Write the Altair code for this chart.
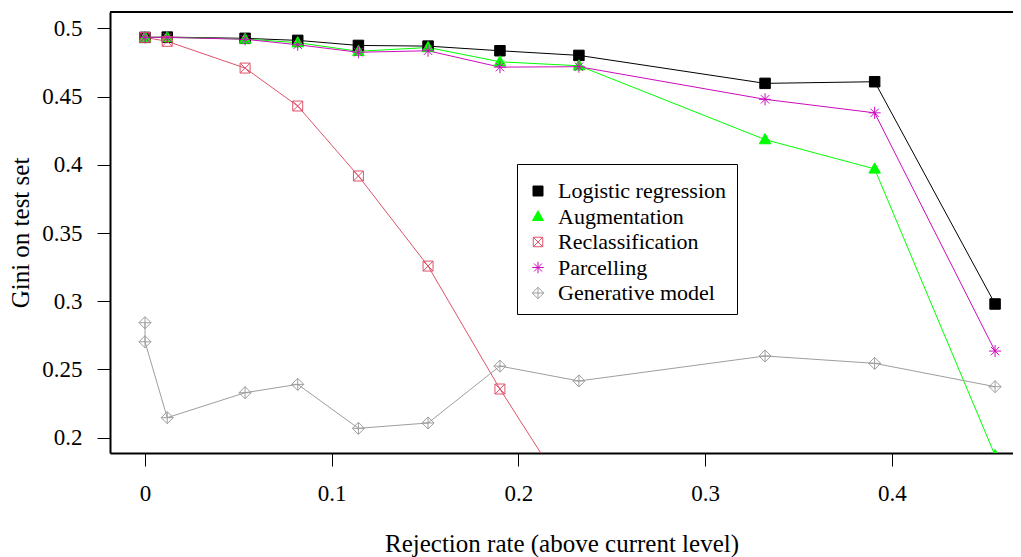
import altair as alt
import pandas as pd

x_vals = [0, 0.0119, 0.0536, 0.0818, 0.1143, 0.1516, 0.1901, 0.2324, 0.3321, 0.3908, 0.4553]
gen_x = [0, 0, 0.0119, 0.0536, 0.0818, 0.1143, 0.1516, 0.1901, 0.2324, 0.3321, 0.3908, 0.4553]

series_names = ["Logistic regression", "Augmentation", "Reclassification", "Parcelling", "Generative model"]
logistic = [0.4934, 0.4936, 0.4927, 0.4912, 0.4875, 0.4870, 0.4836, 0.4802, 0.4597, 0.4609, 0.2980]
augmentation = [0.4934, 0.4934, 0.4922, 0.4895, 0.4832, 0.4860, 0.4755, 0.4726, 0.4185, 0.3970, 0.1870]
reclassification = [0.4934, 0.4905, 0.4709, 0.4431, 0.3918, 0.3258, 0.2357, 0.1450]
parcelling = [0.4934, 0.4934, 0.4920, 0.4880, 0.4825, 0.4836, 0.4716, 0.4719, 0.4480, 0.4381, 0.2635]
generative = [0.2843, 0.2703, 0.2147, 0.2330, 0.2391, 0.2069, 0.2108, 0.2525, 0.2416, 0.2599, 0.2545, 0.2374]

colors = ["#000000", "#00FF00", "#DF536B", "#CD0BBC", "#9E9E9E"]
fills = ["#000000", "#00FF00", "transparent", "transparent", "transparent"]
shapes = [
    "M-1,-1L1,-1L1,1L-1,1Z",
    "M0,-1.15L1.1,0.8L-1.1,0.8Z",
    "M-0.95,-0.95L0.95,-0.95L0.95,0.95L-0.95,0.95Z M-0.95,-0.95L0.95,0.95 M0.95,-0.95L-0.95,0.95",
    "M-1.15,0L1.15,0 M0,-1.15L0,1.15 M-0.8,-0.8L0.8,0.8 M0.8,-0.8L-0.8,0.8",
    "M0,-1.15L1.15,0L0,1.15L-1.15,0Z M0,-1.15L0,1.15 M-1.15,0L1.15,0",
]

rows = []
for name, xs, ys in [
    ("Logistic regression", x_vals, logistic),
    ("Augmentation", x_vals, augmentation),
    ("Reclassification", x_vals, reclassification),
    ("Parcelling", x_vals, parcelling),
    ("Generative model", gen_x, generative),
]:
    for i, (xv, yv) in enumerate(zip(xs, ys)):
        rows.append({"series": name, "x": xv, "y": yv, "idx": i})
df = pd.DataFrame(rows)

FONT = "Liberation Serif"
W, H = 903, 441

xscale = alt.Scale(domain=[-0.01875, 0.4649], nice=False, zero=False)
yscale = alt.Scale(domain=[0.1888, 0.512], nice=False, zero=False)

xaxis = alt.Axis(values=[0, 0.1, 0.2, 0.3, 0.4], format="~g", title="Rejection rate (above current level)",
                 labelPadding=16, titlePadding=26)
yaxis = alt.Axis(values=[0.2, 0.25, 0.3, 0.35, 0.4, 0.45, 0.5], format="~g", title="Gini on test set",
                 labelPadding=15, titlePadding=8)

base = alt.Chart(df)

# line colours: same mapping, domain listed in reverse so this (legend-less) scale stays separate
line_domain = list(reversed(series_names))
line_range = list(reversed(colors))

lines = base.mark_line(strokeWidth=1, clip=True).encode(
    x=alt.X("x:Q", scale=xscale, axis=xaxis),
    y=alt.Y("y:Q", scale=yscale, axis=yaxis),
    color=alt.Color("series:N", scale=alt.Scale(domain=line_domain, range=line_range), legend=None),
    order=alt.Order("idx:Q"),
    detail="series:N",
)

def leg():
    return alt.Legend(title=" ", orient="none", legendX=407, legendY=152)

points = base.mark_point(clip=True, strokeWidth=1, opacity=1, size=110).encode(
    x=alt.X("x:Q", scale=xscale),
    y=alt.Y("y:Q", scale=yscale),
    shape=alt.Shape("series:N", scale=alt.Scale(domain=series_names, range=shapes), legend=leg()),
    stroke=alt.Stroke("series:N", scale=alt.Scale(domain=series_names, range=colors), legend=leg()),
    fill=alt.Fill("series:N", scale=alt.Scale(domain=series_names, range=fills), legend=leg()),
)

top_line = alt.Chart(pd.DataFrame({"k": [0]})).mark_rule(color="black", strokeWidth=2).encode(
    x=alt.value(0), x2=alt.value(W), y=alt.value(0)
)

chart = alt.layer(lines, points, top_line).properties(
    width=W,
    height=H,
    autosize=alt.AutoSizeParams(type="none"),
    padding={"left": 102, "top": 4, "right": 0, "bottom": 104},
    background="white",
).configure_view(
    strokeWidth=0
).configure_axis(
    domain=True, domainColor="black", domainWidth=2, grid=False, offset=0, tickSize=13,
    tickColor="black", tickWidth=1,
    labelFont=FONT, labelFontSize=23, labelColor="black",
    titleFont=FONT, titleFontSize=25, titleFontWeight="normal", titleColor="black",
).configure_legend(
    strokeColor="black", fillColor="white", padding=10, cornerRadius=0,
    titleFontSize=4, titlePadding=2,
    labelFont=FONT, labelFontSize=22, labelColor="black", labelOffset=9, labelLimit=400,
    symbolSize=100, symbolStrokeWidth=1, rowPadding=3.5,
)

chart.save("out.html", embed_options={"renderer": "svg", "actions": False})
